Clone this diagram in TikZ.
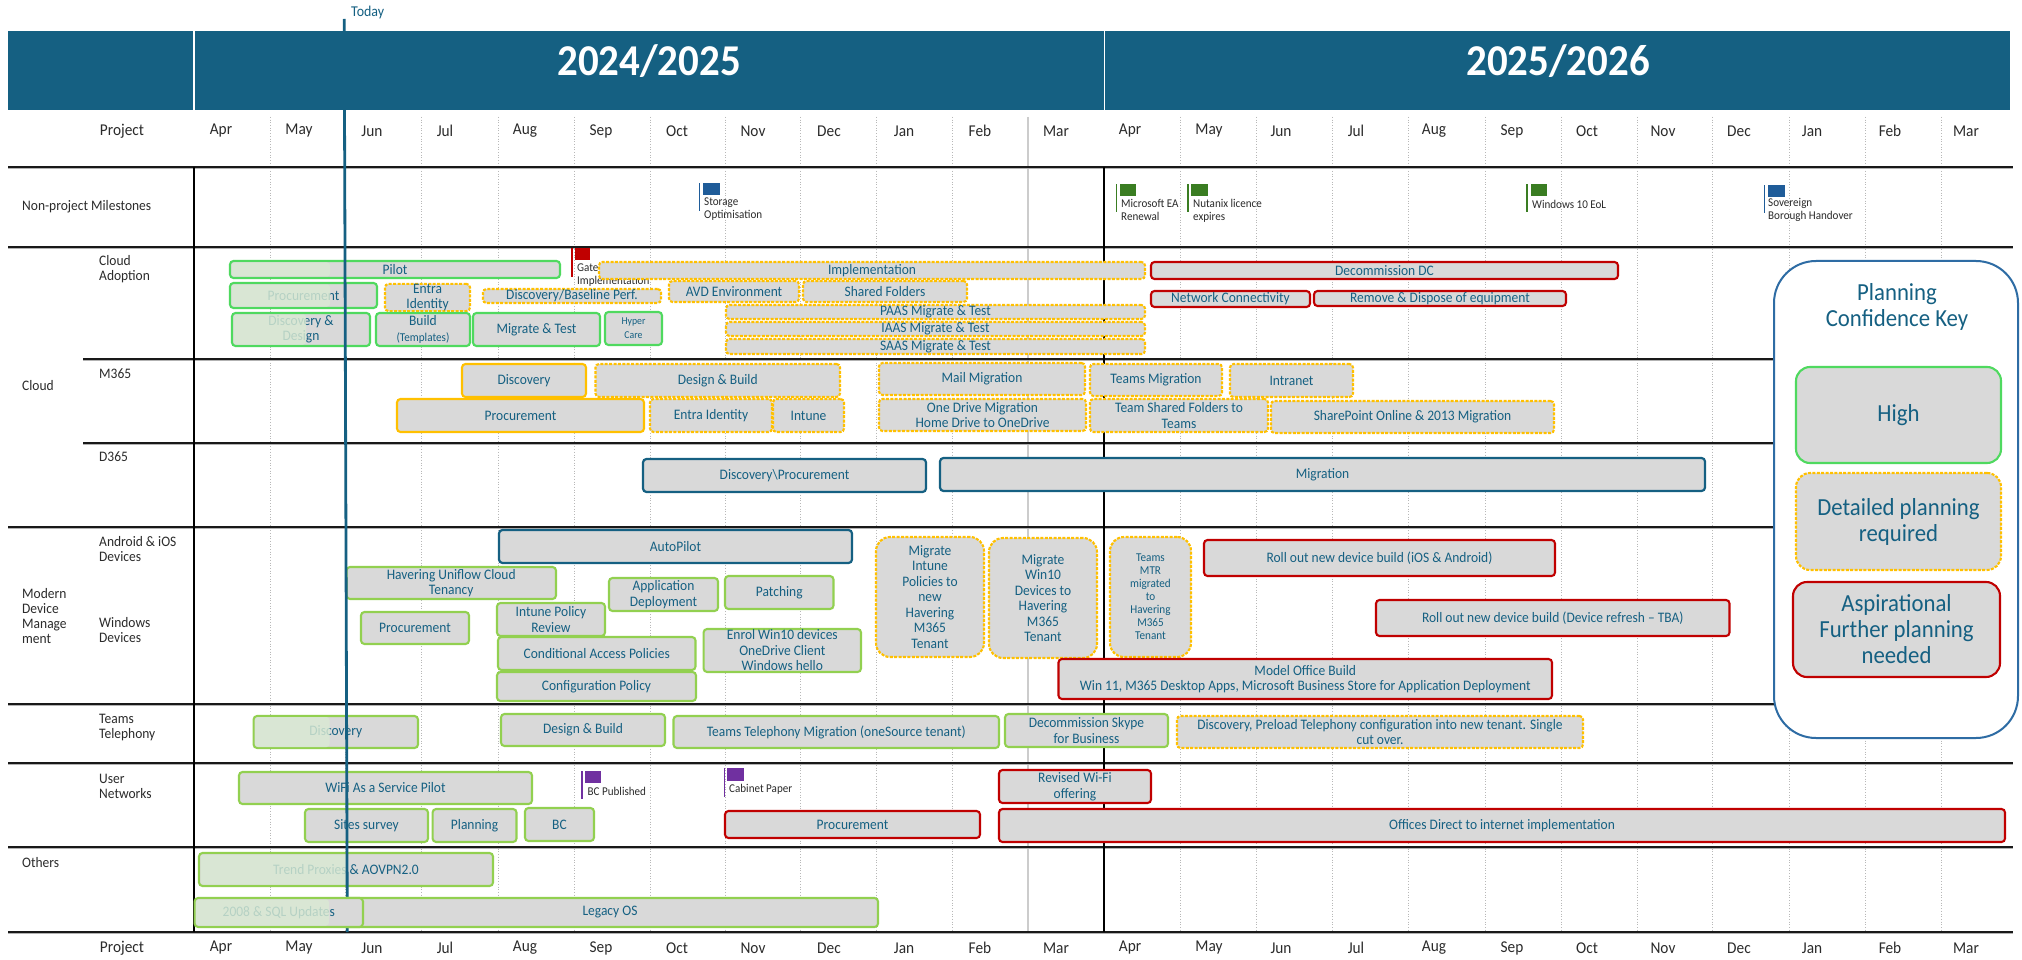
\documentclass[tikz,border=0pt]{standalone}
\usepackage{fontspec}
\setmainfont[FakeStretch=0.93]{Carlito}
\definecolor{teal}{HTML}{156082}
\definecolor{barfill}{HTML}{D9D9D9}
\definecolor{gA}{HTML}{4FD95F}
\definecolor{gB}{HTML}{92D050}
\definecolor{amb}{HTML}{FFC000}
\definecolor{redb}{HTML}{C00000}
\definecolor{over}{HTML}{D9EAD3}
\definecolor{lab}{HTML}{2B2B2B}
\definecolor{keyblue}{HTML}{2E6CA4}
\definecolor{flagblue}{HTML}{1F5C99}
\definecolor{flaggreen}{HTML}{3A7D22}
\definecolor{flagpurple}{HTML}{7030A0}
\tikzset{
 bar/.style={draw,fill=barfill,text=teal,rounded corners=3.5pt,inner sep=0pt,align=center,line width=2.1pt,
   font=\fontsize{14.5}{15.5}\selectfont},
 cloudgreen/.style={bar,draw=gA},
 limegreen/.style={bar,draw=gB},
 dashbar/.style={bar,draw=amb,dash pattern=on 3pt off 1.4pt},
 ambsolid/.style={bar,draw=amb},
 redbar/.style={bar,draw=redb},
 tealbar/.style={bar,draw=teal,line width=2.2pt},
 rowlabel/.style={anchor=west,align=left,inner sep=0pt,text=lab,font=\fontsize{14.5}{15}\selectfont},
 monthlabel/.style={inner sep=0pt,text=lab,font=\fontsize{16.5}{17}\selectfont},
 flagtext/.style={anchor=west,align=left,inner sep=0pt,text=lab,font=\fontsize{11.9}{13}\selectfont},
 keytext/.style={font=\fontsize{24.5}{26}\selectfont},
 hypertext/.style={font=\fontsize{10.5}{14}\selectfont},
 mtrtext/.style={font=\fontsize{12}{13}\selectfont},
 gridline/.style={draw=black!28,line width=0.7pt,dotted},
 rule/.style={draw=black!90,line width=2.2pt},
 rulehalo/.style={draw=black!30,line width=3.6pt},
 overlay/.style={fill=over,opacity=0.82,rounded corners=3pt}
}
\newcommand{\gbar}[7]{\node[#2,minimum width={(#5-#3)*1pt},minimum height={(#6-#4)*1pt}] (#1) at ({(#3+#5)/2},{(#4+#6)/2}) {#7};}
\newcommand{\gflag}[8]{%
 \fill[#2] (#3-0.8,#4) rectangle (#3+0.8,#5);
 \fill[#2] (#6,#4) rectangle (#7,#8);}
\begin{document}
\begin{tikzpicture}[x=1pt,y=-1pt]
\useasboundingbox (0,0) rectangle (2022,960);
\fill[white] (0,0) rectangle (2022,960);
% header band
\fill[teal] (8,31) rectangle (2010,110);
\fill[white] (193.2,31) rectangle (195,110);
\fill[white] (1103.5,31) rectangle (1105,110);
\node[text=white,inner sep=0pt,font=\fontsize{44}{46}\bfseries\selectfont] (y1) at (649,61) {2024/2025};
\node[text=white,inner sep=0pt,font=\fontsize{44}{46}\bfseries\selectfont] (y2) at (1558,61) {2025/2026};
% gridlines
\foreach \g in {270.5,345,421,498,574,650,725,800,876,952,1180,1256,1332,1408,1485,1561,1637,1712,1789,1865,1941}
  \draw[gridline] (\g,117) -- (\g,932);
\draw[draw=black!20,line width=1.5pt] (1028,117) -- (1028,932);
% month labels
\foreach \m/\x in {Apr/221,May/299,Jun/372,Jul/445,Aug/525,Sep/601,Oct/677,Nov/753,Dec/829,Jan/904,Feb/980,Mar/1056,Apr/1130,May/1209,Jun/1281,Jul/1356,Aug/1434,Sep/1512,Oct/1587,Nov/1663,Dec/1739,Jan/1812,Feb/1890,Mar/1966}{
  \node[monthlabel] at (\x,131) {\m};
  \node[monthlabel] at (\x,948) {\m};
}
\node[monthlabel] (p1) at (122,131) {Project};
\node[monthlabel] (p2) at (122,948) {Project};
% rules
\foreach \yy in {167,247,527,704,763,847,932} {\draw[rulehalo] (8,\yy+0.5) -- (2013,\yy+0.5); \draw[rule] (8,\yy) -- (2013,\yy);}
\foreach \yy in {359,443} {\draw[rulehalo] (83,\yy+0.5) -- (2013,\yy+0.5); \draw[rule] (83,\yy) -- (2013,\yy);}
\draw[draw=black,line width=2pt] (194.3,167) -- (194.3,932);
\draw[draw=black,line width=2.2pt] (1104,167) -- (1104,932);
% row labels
\node[rowlabel] (l1) at (22,207) {Non-project Milestones};
\node[rowlabel] (l2) at (99,269.5) {Cloud\\Adoption};
\node[rowlabel] (l3) at (22,386) {Cloud};
\node[rowlabel] (l4) at (99,374) {M365};
\node[rowlabel] (l5) at (99,457) {D365};
\node[rowlabel] (l6) at (22,616) {Modern\\Device\\Manage\\ment};
\node[rowlabel] (l7) at (99,549.5) {Android \& iOS\\Devices};
\node[rowlabel] (l8) at (99,630.5) {Windows\\Devices};
\node[rowlabel] (l9) at (99,727.5) {Teams\\Telephony};
\node[rowlabel] (l10) at (99,786.5) {User\\Networks};
\node[rowlabel] (l11) at (22,863) {Others};
% flags and their texts
\gflag{fa}{flagblue}{699.5}{183}{211}{702.7}{719.6}{195}
\node[flagtext] (ft1) at (704,209.5) {Storage\\Optimisation};
\gflag{fb}{flaggreen}{1116.5}{184}{212}{1119.6}{1135.7}{196}
\node[flagtext] (ft2) at (1121,209.5) {Microsoft EA\\Renewal};
\gflag{fc}{flaggreen}{1188}{184}{212}{1191}{1207.6}{196}
\node[flagtext] (ft3) at (1193,210.5) {Nutanix licence\\expires};
\gflag{fd}{flaggreen}{1527}{184}{212}{1530.6}{1547}{196}
\node[flagtext] (ft4) at (1532,204) {Windows 10 EoL};
\gflag{fe}{flagblue}{1764.5}{185}{213}{1768}{1784.6}{197}
\node[flagtext] (ft5) at (1768,209.5) {Sovereign\\Borough Handover};
\gflag{ff}{redb}{572}{248}{277}{574.5}{590}{260}
\node[flagtext] (ft6) at (577,275) {Gate\\Implementation};
\gflag{fg}{flagpurple}{582}{771}{799}{584.5}{601}{783}
\node[flagtext] (ft7) at (587.5,791) {BC Published};
\gflag{fh}{flagpurple}{724.5}{768}{797}{727}{744}{781}
\node[flagtext] (ft8) at (729,789) {Cabinet Paper};
% cloud adoption
\gbar{pilot}{cloudgreen}{230}{261}{560}{278}{Pilot}
\gbar{proc1}{cloudgreen}{230}{283}{377}{308}{Procurement}
\gbar{entra1}{dashbar}{385}{284}{470}{311}{Entra\\Identity}
\gbar{base}{dashbar}{483}{289}{661}{303}{Discovery/Baseline Perf.}
\gbar{disc1}{cloudgreen}{232}{313}{370}{346}{Discovery \&\\Design}
\gbar{build}{cloudgreen}{376}{313}{470}{346}{Build\\{\fontsize{12}{13}\selectfont (Templates)}}
\gbar{mig}{cloudgreen}{473}{313}{600}{346}{Migrate \& Test}
\gbar{hyper}{cloudgreen,hypertext}{605}{312}{662}{345}{Hyper\\Care}
\gbar{impl}{dashbar}{599}{262}{1145}{279}{Implementation}
\gbar{avd}{dashbar}{669}{281}{799}{302}{AVD Environment}
\gbar{shared}{dashbar}{803}{281}{967}{302}{Shared Folders}
\gbar{paas}{dashbar}{726}{305}{1145}{319}{PAAS Migrate \& Test}
\gbar{iaas}{dashbar}{726}{322}{1145}{336}{IAAS Migrate \& Test}
\gbar{saas}{dashbar}{726}{339}{1145}{354}{SAAS Migrate \& Test}
\gbar{decom}{redbar}{1151}{262}{1618}{279}{Decommission DC}
\gbar{netc}{redbar}{1151}{291}{1310}{307}{Network Connectivity}
\gbar{remove}{redbar}{1314}{291}{1566}{306}{Remove \& Dispose of equipment}
% M365
\gbar{disc2}{ambsolid}{462}{364}{586}{397}{Discovery}
\gbar{design1}{dashbar}{595.5}{364}{840}{397}{Design \& Build}
\gbar{proc2}{ambsolid}{397}{399}{644}{432}{Procurement}
\gbar{entra2}{dashbar}{650}{399}{772}{432}{Entra Identity}
\gbar{intune}{dashbar}{773}{399}{844}{432}{Intune}
\gbar{mail}{dashbar}{879}{363}{1085}{395}{Mail Migration}
\gbar{onedrive}{dashbar}{879}{399}{1086}{431}{One Drive Migration\\Home Drive to OneDrive}
\gbar{teamsm}{dashbar}{1090}{364}{1222}{396}{Teams Migration}
\gbar{teamsf}{dashbar}{1090}{399}{1268}{432}{Team Shared Folders  to\\Teams}
\gbar{intranet}{dashbar}{1230}{364}{1353}{397}{Intranet}
\gbar{sharep}{dashbar}{1271}{401}{1554}{433}{SharePoint Online \& 2013 Migration}
% D365
\gbar{discp}{tealbar}{643}{459}{926}{492}{Discovery\textbackslash Procurement}
\gbar{migr}{tealbar}{940}{458}{1705}{491}{Migration}
% modern device management
\gbar{autop}{tealbar}{499}{530}{852}{563}{AutoPilot}
\gbar{uni}{limegreen}{346.5}{567}{556}{599}{Havering Uniflow Cloud\\Tenancy}
\gbar{appd}{limegreen}{609}{578}{718}{611}{Application\\Deployment}
\gbar{patch}{limegreen}{725}{576}{833.5}{609}{Patching}
\gbar{proc3}{limegreen}{361}{612}{469}{644}{Procurement}
\gbar{ipr}{limegreen}{497}{603}{605}{636}{Intune Policy\\Review}
\gbar{enrol}{limegreen}{703.6}{629}{861}{672}{Enrol Win10 devices\\OneDrive Client\\Windows hello}
\gbar{cap}{limegreen}{498}{637}{695.5}{670}{Conditional Access Policies}
\gbar{conf}{limegreen}{497}{672}{696}{701}{Configuration Policy}
\gbar{mint}{dashbar,rounded corners=14pt}{876}{537}{984}{657}{Migrate\\Intune\\Policies to\\new\\Havering\\M365\\Tenant}
\gbar{mwin}{dashbar,rounded corners=14pt}{989}{538}{1097}{658}{Migrate\\Win10\\Devices to\\Havering\\M365\\Tenant}
\gbar{mtr}{dashbar,mtrtext,rounded corners=14pt}{1110}{537}{1191}{657}{Teams\\MTR\\migrated\\to\\Havering\\M365\\Tenant}
\gbar{roll1}{redbar}{1204}{540}{1555}{576}{Roll out new device build (iOS \& Android)}
\gbar{roll2}{redbar}{1376}{600}{1729.5}{636}{Roll out new device build (Device refresh -- TBA)}
\gbar{model}{redbar}{1058.5}{659}{1552}{699}{Model Office Build\\Win 11, M365 Desktop Apps, Microsoft Business Store for Application Deployment}
% teams telephony
\gbar{disc3}{limegreen}{253.6}{716}{418}{748}{Discovery}
\gbar{design2}{limegreen}{501}{714}{665}{746}{Design \& Build}
\gbar{ttm}{limegreen}{673.5}{716}{999}{748}{Teams Telephony Migration (oneSource tenant)}
\gbar{skype}{limegreen}{1005}{714}{1168}{747}{Decommission Skype\\for Business}
\gbar{preload}{dashbar}{1177}{716}{1583}{748}{Discovery, Preload Telephony configuration into new tenant. Single\\cut over.}
% user networks
\gbar{wifi}{limegreen}{239}{772}{532}{804}{WiFi As a Service Pilot}
\gbar{sites}{limegreen}{305}{809}{428}{842}{Sites survey}
\gbar{plan}{limegreen}{432.6}{809}{516.5}{842}{Planning}
\gbar{bc}{limegreen}{525}{808}{594}{841}{BC}
\gbar{rev}{redbar}{999}{770}{1151}{803}{Revised Wi-Fi\\offering}
\gbar{proc4}{redbar}{725}{811}{980}{838}{Procurement}
\gbar{off}{redbar}{999}{809}{2005}{842}{Offices Direct to internet implementation}
% others
\gbar{trend}{limegreen}{199}{853}{493}{886}{Trend Proxies \& AOVPN2.0}
% translucent overlays
\fill[overlay] (231.5,262.5) rectangle (330,276.5);
\fill[overlay] (231.5,284.5) rectangle (330,306.5);
\fill[overlay] (233.5,314.5) rectangle (306,344.5);
\fill[overlay] (255,717) rectangle (329.5,747);
\fill[overlay] (200.5,854.5) rectangle (347,884.5);
% today marker
\draw[teal,line width=2.8pt] (344.2,19) -- (347.3,932);
\node[inner sep=0pt,anchor=west,text=teal,font=\fontsize{15}{16}\selectfont] (today) at (351,13) {Today};
% others, on top of the marker
\gbar{legacy}{limegreen}{342}{898}{878}{927}{Legacy OS}
\gbar{sql}{limegreen}{194.6}{898}{363}{927}{2008 \& SQL Updates}
\fill[overlay] (196,899.5) rectangle (329,925.5);
% key
\node[draw=keyblue,fill=white,line width=2pt,rounded corners=42pt,minimum width=244pt,minimum height=477pt,inner sep=0pt] (key) at (1896,499.5) {};
\node[text=teal,align=center,inner sep=0pt,keytext] (keyt) at (1897,307) {Planning\\Confidence Key};
\gbar{khigh}{cloudgreen,keytext,rounded corners=14pt}{1796}{367}{2001}{463}{High}
\gbar{kdet}{dashbar,keytext,rounded corners=14pt}{1796}{473}{2001}{570}{Detailed planning\\required}
\gbar{kasp}{redbar,keytext,rounded corners=14pt}{1793}{582}{2000}{677}{Aspirational\\Further planning\\needed}
\end{tikzpicture}
\end{document}
